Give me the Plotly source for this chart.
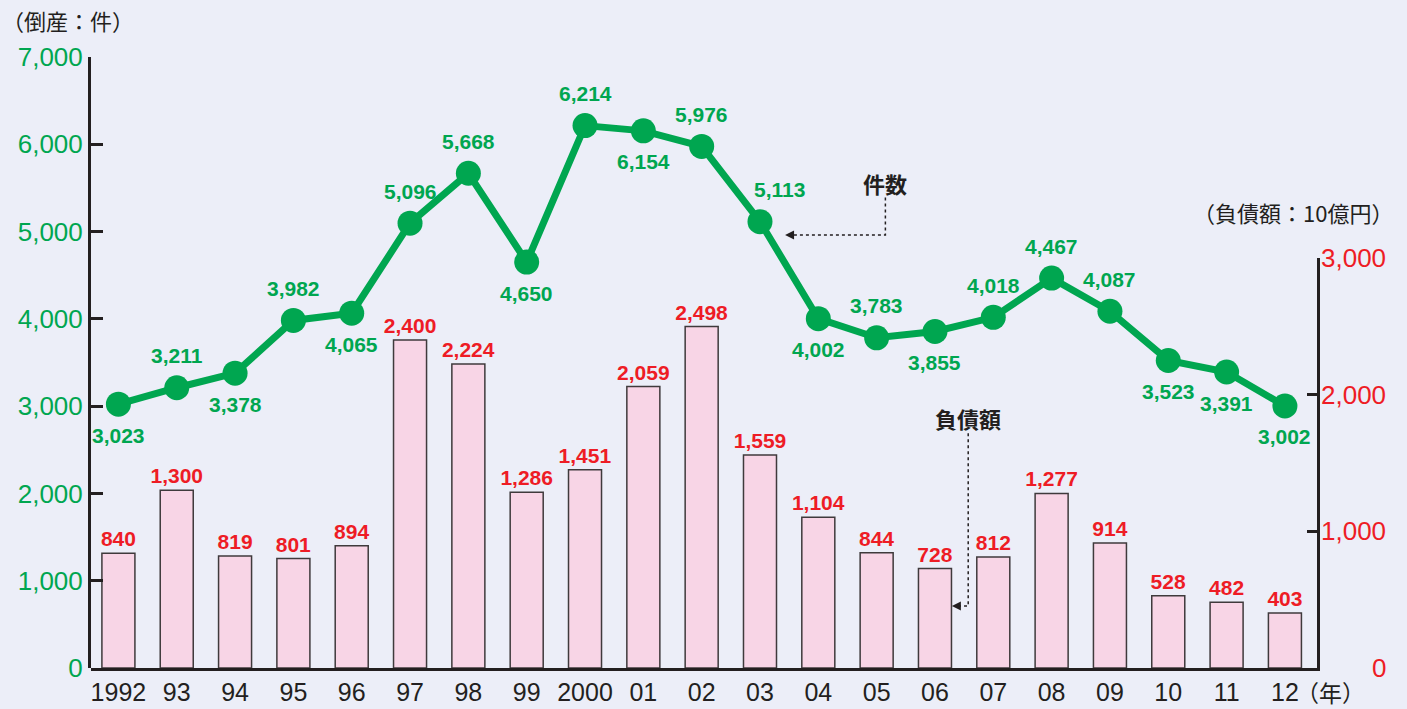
import plotly.graph_objects as go

years = ["1992", "93", "94", "95", "96", "97", "98", "99", "2000", "01", "02",
         "03", "04", "05", "06", "07", "08", "09", "10", "11", "12"]
counts = [3023, 3211, 3378, 3982, 4065, 5096, 5668, 4650, 6214, 6154, 5976,
          5113, 4002, 3783, 3855, 4018, 4467, 4087, 3523, 3391, 3002]
debts = [840, 1300, 819, 801, 894, 2400, 2224, 1286, 1451, 2059, 2498,
         1559, 1104, 844, 728, 812, 1277, 914, 528, 482, 403]
count_label_pos = ["bottom", "top", "bottom", "top", "bottom", "top", "top", "bottom",
                   "top", "bottom", "top", "top", "bottom", "top", "bottom", "top",
                   "top", "top", "bottom", "bottom", "bottom"]
left_ticks = [0, 1000, 2000, 3000, 4000, 5000, 6000, 7000]
right_ticks = [0, 1000, 2000, 3000]

GREEN = "#00a650"
RED = "#ee1c25"
INK = "#231f20"
BG = "#eceef8"
NUM_FONT = "Liberation Sans, Arial, sans-serif"
BOLD_NUM = "Liberation Sans, Arial, sans-serif"
JP_FONT = "Noto Sans CJK JP, sans-serif"

xs = list(range(len(years)))

fig = go.Figure()

# bars: debt (right scale, yaxis)
fig.add_trace(go.Bar(
    x=xs, y=debts, yaxis="y", width=0.566,
    marker=dict(color="#f8d5e6", line=dict(color="#3f3a3c", width=1.5)),
    text=[f"{v:,}" for v in debts], textposition="outside", constraintext="none",
    textfont=dict(color=RED, size=21, family=BOLD_NUM, weight="bold"),
    cliponaxis=False, showlegend=False,
))

# line: counts (left scale, yaxis2) drawn on top
fig.add_trace(go.Scatter(
    x=xs, y=counts, mode="lines+markers", yaxis="y2",
    line=dict(color=GREEN, width=7),
    marker=dict(color=GREEN, size=25),
    showlegend=False, cliponaxis=False,
))

for x, v, p in zip(xs, counts, count_label_pos):
    fig.add_annotation(x=x, y=v, xref="x", yref="y2", text=f"<b>{v:,}</b>",
                       showarrow=False, yshift=32 if p == "top" else -31,
                       xshift=20 if years[x] == "03" else 0,
                       font=dict(color=GREEN, size=21, family=BOLD_NUM))

fig.update_layout(
    width=1407, height=709,
    margin=dict(l=91, r=90, t=57, b=41, autoexpand=False),
    paper_bgcolor=BG, plot_bgcolor="rgba(0,0,0,0)",
    xaxis=dict(
        range=[-0.47, 20.55], tickmode="array", tickvals=xs, ticktext=years,
        showline=True, linecolor=INK, linewidth=3, showgrid=False, zeroline=False,
        ticks="", tickfont=dict(size=25, color=INK, family=NUM_FONT), automargin=False,
    ),
    yaxis=dict(
        range=[0, 3000], domain=[0, 0.671], side="right", anchor="x",
        tickmode="array", tickvals=right_ticks, showticklabels=False,
        showline=True, linecolor=INK, linewidth=3, showgrid=False, zeroline=False,
        ticks="inside", ticklen=10, tickwidth=3, tickcolor=INK, automargin=False,
    ),
    yaxis2=dict(
        range=[0, 7000], domain=[0, 1], side="left", anchor="x",
        tickmode="array", tickvals=left_ticks,
        ticktext=[f"{v:,}" for v in left_ticks],
        showline=True, linecolor=INK, linewidth=3, showgrid=False, zeroline=False,
        ticks="inside", ticklen=12, tickwidth=3, tickcolor=INK,
        tickfont=dict(size=26, color=GREEN, family=NUM_FONT), ticklabelstandoff=0,
        automargin=False,
    ),
)

# right axis labels (right aligned)
for v in right_ticks:
    fig.add_annotation(x=1.058, xref="paper", y=v, yref="y", text=f"{v:,}",
                       showarrow=False, xanchor="right", yanchor="middle",
                       font=dict(size=26, color=RED, family=NUM_FONT))

# axis unit titles
fig.add_annotation(x=-0.074, xref="paper", y=1.06, yref="paper", text="（倒産：件）",
                   showarrow=False, xanchor="left", yanchor="middle",
                   font=dict(size=22, color=INK, family=JP_FONT))
fig.add_annotation(x=1.064, xref="paper", y=0.746, yref="paper", text="（負債額：10億円）",
                   showarrow=False, xanchor="right", yanchor="middle",
                   font=dict(size=22, color=INK, family=JP_FONT))
fig.add_annotation(x=20.16, xref="x", y=-0.04, yref="paper", text="（年）",
                   showarrow=False, xanchor="left", yanchor="middle",
                   font=dict(size=23, color=INK, family=JP_FONT))

# callouts
fig.add_annotation(x=13.15, y=5556, xref="x", yref="y2", text="<b>件数</b>",
                   showarrow=False, font=dict(size=22, color=INK, family=JP_FONT))
fig.add_shape(type="path", xref="x", yref="y2",
              path="M 13.15 5390 L 13.15 4960 L 11.5 4960",
              line=dict(color=INK, width=1.5, dash="dot"))
fig.add_annotation(x=11.43, y=4960, ax=11.6, ay=4960, axref="x", ayref="y2",
                   xref="x", yref="y2", text="", showarrow=True,
                   arrowhead=2, arrowsize=1.2, arrowwidth=1.5, arrowcolor=INK)

fig.add_annotation(x=14.57, y=2864, xref="x", yref="y2", text="<b>負債額</b>",
                   showarrow=False, font=dict(size=22, color=INK, family=JP_FONT))
fig.add_shape(type="path", xref="x", yref="y2",
              path="M 14.57 2690 L 14.57 710 L 14.35 710",
              line=dict(color=INK, width=1.5, dash="dot"))
fig.add_annotation(x=14.29, y=710, ax=14.45, ay=710, axref="x", ayref="y2",
                   xref="x", yref="y2", text="", showarrow=True,
                   arrowhead=2, arrowsize=1.2, arrowwidth=1.5, arrowcolor=INK)

fig.write_html("out.html", config={"displayModeBar": False},
               post_script="document.body.style.margin='0';document.body.style.overflow='hidden';")
